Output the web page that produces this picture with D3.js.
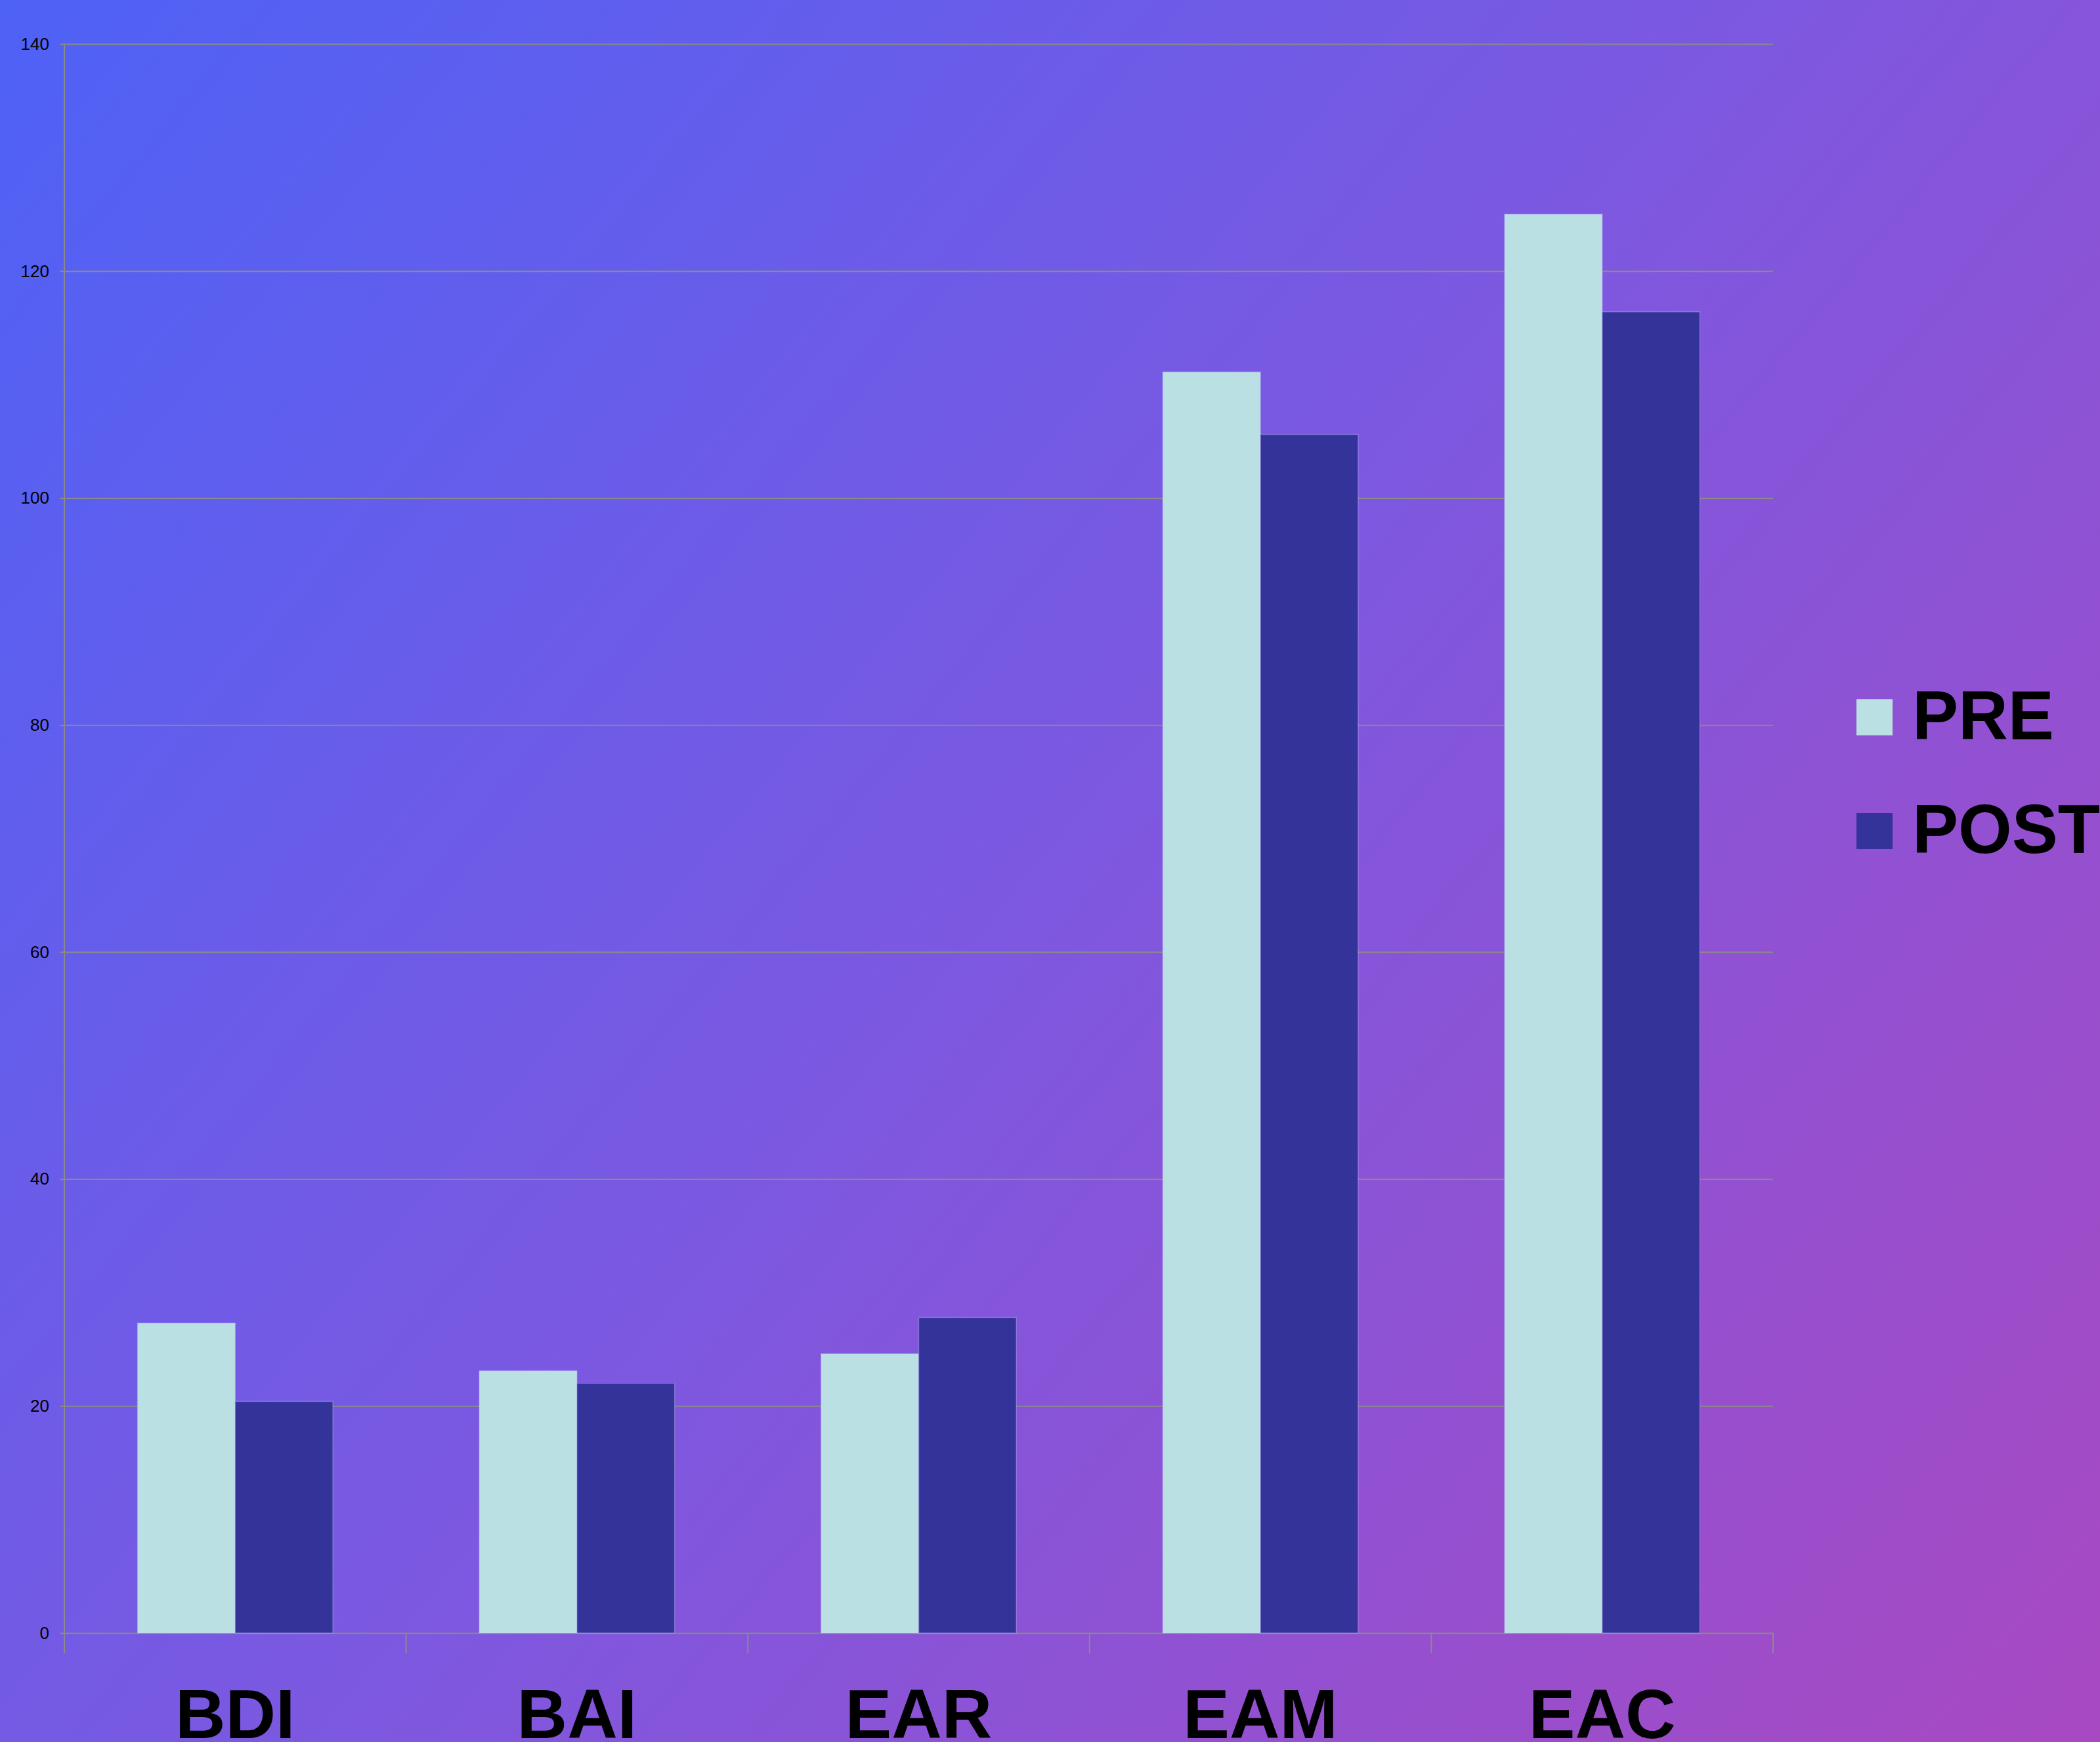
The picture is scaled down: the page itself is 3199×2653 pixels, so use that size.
<!DOCTYPE html>
<html>
<head>
<meta charset="utf-8">
<script src="https://cdn.jsdelivr.net/npm/d3@7"></script>
<style>
  html, body { margin: 0; padding: 0; background: #fff; }
  svg { display: block; }
</style>
</head>
<body>
<svg id="chart" width="3199" height="2653"></svg>
<script>
// data
var categories = ["BDI", "BAI", "EAR", "EAM", "EAC"];
var seriesNames = ["PRE", "POST"];
var preValues = [27.3, 23.1, 24.6, 111.1, 125.0];
var postValues = [20.4, 22.0, 27.8, 105.6, 116.4];
var yTicks = [0, 20, 40, 60, 80, 100, 120, 140];
var colors = ["#bae0e3", "#34339a"];

var W = 3199, H = 2653;
var plotL = 98, plotR = 2701, plotT = 67, plotB = 2487;

var svg = d3.select("#chart");

// background gradient
var defs = svg.append("defs");
var grad = defs.append("linearGradient").attr("id", "bg")
    .attr("gradientUnits", "userSpaceOnUse")
    .attr("x1", 0).attr("y1", 0).attr("x2", W).attr("y2", H);
grad.append("stop").attr("offset", "0").attr("stop-color", "#4e62f6");
grad.append("stop").attr("offset", "0.5").attr("stop-color", "#7d58e0");
grad.append("stop").attr("offset", "1").attr("stop-color", "#a849c2");
svg.append("rect").attr("width", W).attr("height", H).attr("fill", "url(#bg)");

var x = d3.scaleBand().domain(categories).range([plotL, plotR]).padding(0);
var xs = d3.scaleBand().domain(seriesNames).range([0, x.bandwidth()])
    .paddingInner(0).paddingOuter(0.75);
var y = d3.scaleLinear().domain([0, 140]).range([plotB, plotT]);

// y axis with gridlines
var yAxis = svg.append("g").attr("transform", "translate(" + (plotL - 7) + ",0)")
    .call(d3.axisLeft(y).tickValues(yTicks).tickSizeInner(-(plotR - plotL + 7))
        .tickSizeOuter(0).tickPadding(16));
yAxis.select(".domain").remove();
yAxis.selectAll(".tick line").attr("stroke", "#8a8a8a").attr("stroke-width", 2);
yAxis.selectAll(".tick text").attr("font-family", "Liberation Sans, Arial, sans-serif")
    .attr("font-size", 26).attr("fill", "#000");

// y axis line
svg.append("line").attr("x1", plotL).attr("x2", plotL)
    .attr("y1", plotT).attr("y2", plotB + 31)
    .attr("stroke", "#8a8a8a").attr("stroke-width", 2);

// x category boundary ticks
var bounds = categories.map(function(c) { return x(c); }).concat([plotR]);
svg.selectAll(".xtick").data(bounds).enter().append("line").attr("class", "xtick")
    .attr("x1", function(d) { return d; }).attr("x2", function(d) { return d; })
    .attr("y1", plotB).attr("y2", plotB + 31)
    .attr("stroke", "#8a8a8a").attr("stroke-width", 2);

// bars
var rows = categories.map(function(c, i) {
    return { cat: c, vals: [preValues[i], postValues[i]] };
});
var grp = svg.selectAll(".grp").data(rows).enter().append("g").attr("class", "grp")
    .attr("transform", function(d) { return "translate(" + x(d.cat) + ",0)"; });
grp.selectAll("rect").data(function(d) {
    return d.vals.map(function(v, j) { return { s: seriesNames[j], v: v, j: j }; });
}).enter().append("rect")
    .attr("x", function(d) { return xs(d.s); })
    .attr("y", function(d) { return y(d.v); })
    .attr("width", xs.bandwidth())
    .attr("height", function(d) { return plotB - y(d.v); })
    .attr("fill", function(d) { return colors[d.j]; })
    .attr("stroke", "rgba(200,200,255,0.35)").attr("stroke-width", 1.5);

// x labels
svg.selectAll(".xlab").data(categories).enter().append("text").attr("class", "xlab")
    .attr("x", function(d) { return x(d) + x.bandwidth() / 2; })
    .attr("y", 2647)
    .attr("text-anchor", "middle")
    .attr("font-family", "Liberation Sans, Arial, sans-serif")
    .attr("font-weight", "bold").attr("font-size", 106)
    .attr("fill", "#000")
    .text(function(d) { return d; });

// legend
var leg = svg.selectAll(".leg").data(seriesNames).enter().append("g").attr("class", "leg")
    .attr("transform", function(d, i) { return "translate(2828," + (1065 + i * 173) + ")"; });
leg.append("rect").attr("width", 55).attr("height", 55)
    .attr("fill", function(d, i) { return colors[i]; });
leg.append("text").attr("x", 85).attr("y", 61)
    .attr("font-family", "Liberation Sans, Arial, sans-serif")
    .attr("font-weight", "bold").attr("font-size", 105)
    .attr("fill", "#000")
    .text(function(d) { return d; });
</script>
</body>
</html>
